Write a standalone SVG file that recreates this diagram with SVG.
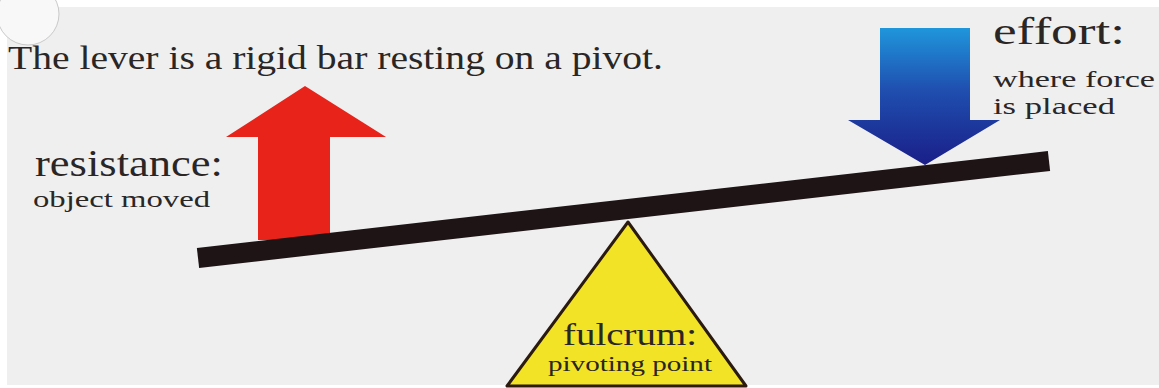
<svg xmlns="http://www.w3.org/2000/svg" width="1159" height="388" viewBox="0 0 1159 388">
<style>
.t{font-family:"Liberation Serif","DejaVu Serif",serif;fill:#2a2626}
</style>
<defs>
<linearGradient id="blue" x1="0" y1="0" x2="0" y2="1">
<stop offset="0" stop-color="#1f96dc"/>
<stop offset="0.45" stop-color="#1f4fb0"/>
<stop offset="1" stop-color="#1a1e88"/>
</linearGradient>
</defs>
<rect width="1159" height="388" fill="#ffffff"/>
<rect x="7" y="7" width="1152" height="378" fill="#efefef"/>
<g id="title"><text class="t" x="8" y="69" font-size="34" textLength="655" lengthAdjust="spacingAndGlyphs">The lever is a rigid bar resting on a pivot.</text></g>
<circle cx="28" cy="14" r="31" fill="#f8f8f8" stroke="#c9c9c9" stroke-width="1"/>
<g id="fulcrum">
<polygon points="628,222 507,386 746,386" fill="#f2e326" stroke="#2b1a10" stroke-width="3" stroke-linejoin="round"/>
<text class="t" x="630" y="345" font-size="32" text-anchor="middle" textLength="134" lengthAdjust="spacingAndGlyphs">fulcrum:</text>
<text class="t" x="630" y="371" font-size="21" text-anchor="middle" textLength="164" lengthAdjust="spacingAndGlyphs">pivoting point</text>
</g>
<g id="resistance">
<polygon points="258,240 258,137 226,137 305,86 386,137 330,137 330,240" fill="#e8231a"/>
<text class="t" x="35" y="176" font-size="38" textLength="188" lengthAdjust="spacingAndGlyphs">resistance:</text>
<text class="t" x="33" y="207" font-size="24" textLength="177" lengthAdjust="spacingAndGlyphs">object moved</text>
</g>
<g id="effort">
<polygon points="880,28 970,28 970,120 1000,120 925,165 848,120 880,120" fill="url(#blue)"/>
<text class="t" x="993" y="44" font-size="37" textLength="132" lengthAdjust="spacingAndGlyphs">effort:</text>
<text class="t" x="993" y="87" font-size="24" textLength="162" lengthAdjust="spacingAndGlyphs">where force</text>
<text class="t" x="993" y="114" font-size="24" textLength="122" lengthAdjust="spacingAndGlyphs">is placed</text>
</g>
<g id="connectors">
<line id="lever" x1="198" y1="258" x2="1049" y2="161" stroke="#1e1416" stroke-width="20"/>
</g>
</svg>
